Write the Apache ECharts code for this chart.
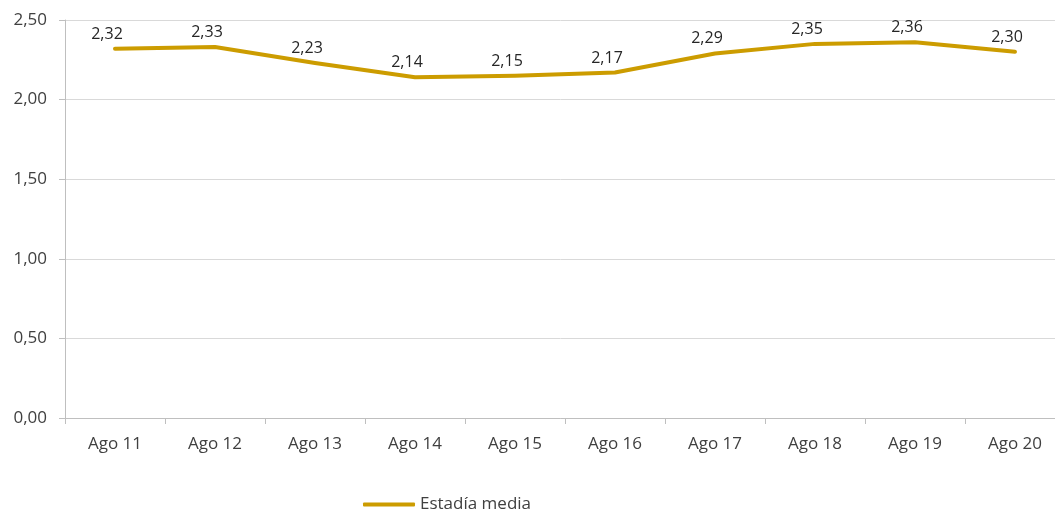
<!DOCTYPE html>
<html><head><meta charset="utf-8">
<script src="https://cdn.jsdelivr.net/npm/echarts@6/dist/echarts.min.js"></script>
<style>html,body{margin:0;padding:0;background:#fff}#c{width:1055px;height:515px}</style>
</head><body><div id="c"></div>
<script>
var categories = ['Ago 11','Ago 12','Ago 13','Ago 14','Ago 15','Ago 16','Ago 17','Ago 18','Ago 19','Ago 20'];
var values = [2.32, 2.33, 2.23, 2.14, 2.15, 2.17, 2.29, 2.35, 2.36, 2.30];
var seriesName = 'Estadía media';
var fmt = function(v){ return v.toFixed(2).replace('.', ','); };
var font = '"Open Sans", "Liberation Sans", sans-serif';
var chart = echarts.init(document.getElementById('c'));
chart.setOption({
  animation: false,
  grid: {left: 65, top: 20, width: 1000, height: 398, containLabel: false, outerBoundsMode: 'none'},
  legend: {
    top: 491, left: 358, itemWidth: 52, itemHeight: 4, itemGap: 10,
    icon: 'roundRect',
    itemStyle: {color: '#CC9C00', opacity: 1},
    textStyle: {fontFamily: font, fontSize: 17, color: '#404040'},
    data: [seriesName]
  },
  xAxis: {
    type: 'category', data: categories, boundaryGap: true,
    axisLine: {lineStyle: {color: '#BFBFBF', width: 1}},
    axisTick: {show: true, length: 6, lineStyle: {color: '#BFBFBF'}},
    axisLabel: {fontFamily: font, fontSize: 17, color: '#404040', margin: 18}
  },
  yAxis: {
    type: 'value', min: 0, max: 2.5, interval: 0.5,
    axisLine: {show: true, lineStyle: {color: '#BFBFBF'}},
    axisTick: {show: true, length: 6, lineStyle: {color: '#BFBFBF'}},
    splitLine: {lineStyle: {color: '#D9D9D9'}},
    axisLabel: {fontFamily: font, fontSize: 17, color: '#404040', margin: 18, formatter: function(v){return fmt(v);}}
  },
  series: [{
    name: seriesName, type: 'line', data: values,
    symbol: 'circle', symbolSize: 1, showSymbol: true, smooth: false,
    lineStyle: {color: '#CC9C00', width: 4, cap: 'round', join: 'round'},
    itemStyle: {color: '#CC9C00', opacity: 0},
    label: {show: true, position: 'top', distance: 6, offset: [-8, 0], fontFamily: font, fontSize: 16, color: '#262626', opacity: 1, formatter: function(p){return fmt(p.value);}}
  }]
});
</script></body></html>
